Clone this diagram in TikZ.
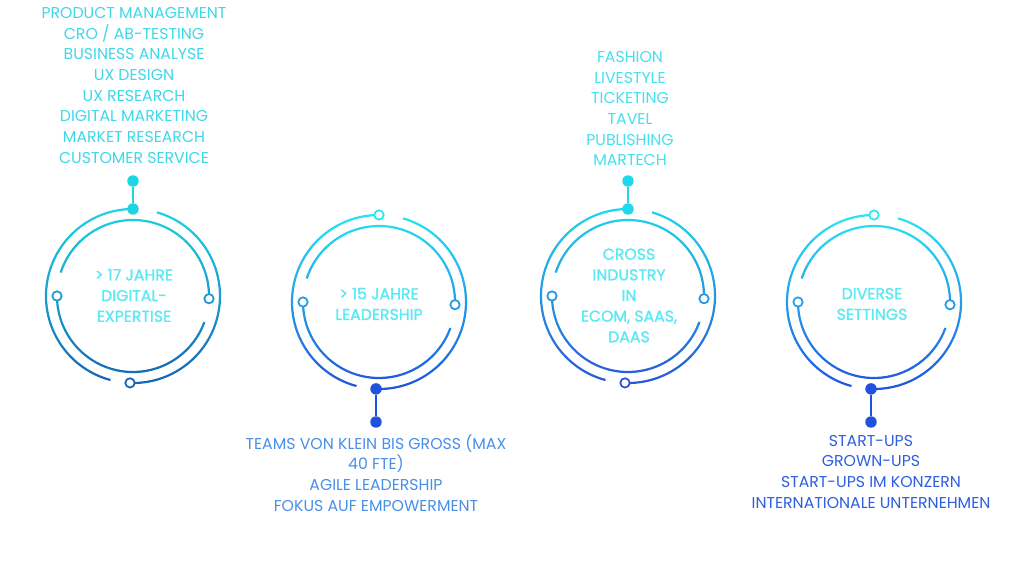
\documentclass[tikz,border=0pt]{standalone}
\usepackage{fontspec}
\setmainfont{Poppins}
\newfontfamily\headfont[FakeBold=1.3]{Poppins}

\definecolor{cAtop}{HTML}{1DD6E2}
\definecolor{cAbot}{HTML}{1563B8}
\definecolor{cBtop}{HTML}{26E6F4}
\definecolor{cBbot}{HTML}{2052DD}
\definecolor{cCtop}{HTML}{1FD8EC}
\definecolor{cCbot}{HTML}{2A55D8}
\definecolor{cDtop}{HTML}{2AE8F4}
\definecolor{cDbot}{HTML}{2052DD}
\definecolor{listA}{HTML}{3ED8EA}
\definecolor{listB}{HTML}{4A8FE6}
\definecolor{listC}{HTML}{45E0EE}
\definecolor{listD}{HTML}{2E5FE0}
\definecolor{headcyan}{HTML}{5CE9F4}

\tikzset{
  filldot/.style={circle, fill=#1, inner sep=0pt, minimum size=8.6pt},
  ringdot/.style={circle, draw=#1, fill=white, line width=1.3pt, inner sep=0pt, minimum size=7pt},
  stem/.style={draw=#1, line width=1.5pt},
  listtext/.style={align=center, text=#1, font=\fontsize{11.8}{15.5}\selectfont},
  headtext/.style={align=center, text=headcyan, font=\headfont\fontsize{11.8}{15.5}\selectfont}
}

\begin{document}
\begin{tikzpicture}[x=0.75pt, y=0.75pt]
    \useasboundingbox[fill=white] (0,0) rectangle (1024,579);

    % Draw the two broken rings of each circle, shaded top to bottom
    \foreach \cx/\cy/\ctop/\cbot in {133/283/cAtop/cAbot, 379/277/cBtop/cBbot, 628/283/cCtop/cCbot, 874/277/cDtop/cDbot} {
        \begin{scope}[shift={(\cx,\cy)}]
            \clip (90:85.9) arc[start angle=90, end angle=255, radius=85.9] -- (255:88.1) arc[start angle=255, end angle=90, radius=88.1] -- cycle
                  (268:85.9) arc[start angle=268, end angle=434, radius=85.9] -- (434:88.1) arc[start angle=434, end angle=268, radius=88.1] -- cycle
                  (-2:74.9) arc[start angle=-2, end angle=162, radius=74.9] -- (162:77.1) arc[start angle=162, end angle=-2, radius=77.1] -- cycle
                  (180:74.9) arc[start angle=180, end angle=340, radius=74.9] -- (340:77.1) arc[start angle=340, end angle=180, radius=77.1] -- cycle;
            \shade[top color=\ctop, bottom color=\cbot] (-90,-90) rectangle (90,90);
        \end{scope}
    }

    % Circle 1: digital expertise
    \node[filldot=cAtop] (aDot) at (133,370) {};
    \node[filldot=cAtop] (aPin) at (133,398) {};
    \draw[stem=cAtop] (aDot) -- (aPin);
    \node[ringdot=cAtop!50!cAbot] (aLeft) at (57,283) {};
    \node[ringdot=cAtop!48!cAbot] (aRight) at (209,280.3) {};
    \node[ringdot=cAbot] (aBottom) at (130,196.1) {};
    \node[headtext] (aHead) at (134,283.5) {> 17 JAHRE\\DIGITAL-\\EXPERTISE};
    \node[listtext=listA] (aList) at (134,493.5) {PRODUCT MANAGEMENT\\CRO / AB-TESTING\\BUSINESS ANALYSE\\UX DESIGN\\UX RESEARCH\\DIGITAL MARKETING\\MARKET RESEARCH\\CUSTOMER SERVICE};

    % Circle 2: leadership
    \node[ringdot=cBtop] (bTop) at (379,364) {};
    \node[ringdot=cBtop!50!cBbot] (bLeft) at (303,277) {};
    \node[ringdot=cBtop!48!cBbot] (bRight) at (455,274.3) {};
    \node[filldot=cBbot] (bDot) at (376,190.1) {};
    \node[filldot=cBbot] (bPin) at (376,157) {};
    \draw[stem=cBbot] (bDot) -- (bPin);
    \node[headtext] (bHead) at (379,275) {> 15 JAHRE\\LEADERSHIP};
    \node[listtext=listB] (bList) at (376,106) {TEAMS VON KLEIN BIS GROSS (MAX\\40 FTE)\\AGILE LEADERSHIP\\FOKUS AUF EMPOWERMENT};

    % Circle 3: industries
    \node[filldot=cCtop] (cDot) at (628,370) {};
    \node[filldot=cCtop] (cPin) at (628,398) {};
    \draw[stem=cCtop] (cDot) -- (cPin);
    \node[ringdot=cCtop!50!cCbot] (cLeft) at (552,283) {};
    \node[ringdot=cCtop!48!cCbot] (cRight) at (704,280.3) {};
    \node[ringdot=cCbot] (cBottom) at (625,196.1) {};
    \node[headtext] (cHead) at (629,283.5) {CROSS\\INDUSTRY\\IN\\ECOM, SAAS,\\DAAS};
    \node[listtext=listC] (cList) at (630,470.5) {FASHION\\LIVESTYLE\\TICKETING\\TAVEL\\PUBLISHING\\MARTECH};

    % Circle 4: settings
    \node[ringdot=cDtop] (dTop) at (874,364) {};
    \node[ringdot=cDtop!50!cDbot] (dLeft) at (798,277) {};
    \node[ringdot=cDtop!48!cDbot] (dRight) at (950,274.3) {};
    \node[filldot=cDbot] (dDot) at (871,190.1) {};
    \node[filldot=cDbot] (dPin) at (871,157) {};
    \draw[stem=cDbot] (dDot) -- (dPin);
    \node[headtext] (dHead) at (872,275) {DIVERSE\\SETTINGS};
    \node[listtext=listD] (dList) at (871,107.5) {START-UPS\\GROWN-UPS\\START-UPS IM KONZERN\\INTERNATIONALE UNTERNEHMEN};
\end{tikzpicture}
\end{document}
